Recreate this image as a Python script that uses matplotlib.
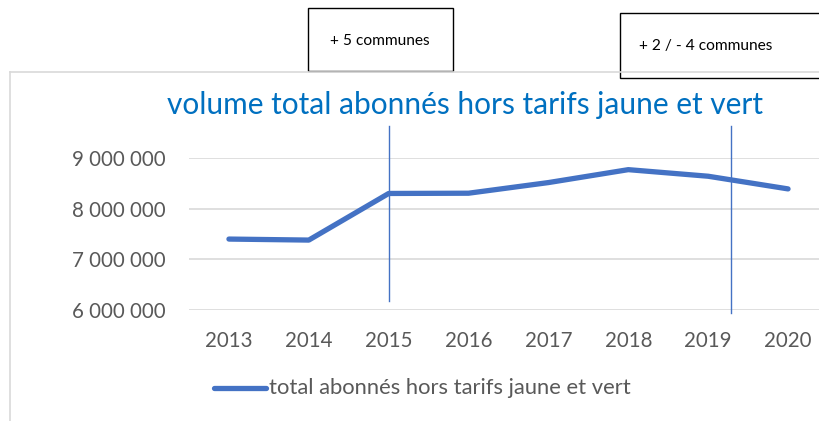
import matplotlib
matplotlib.use('Agg')
import matplotlib.pyplot as plt
from matplotlib.patches import Rectangle
from matplotlib.lines import Line2D

plt.rcParams['font.family'] = ['Lato', 'DejaVu Sans']

years = ['2013', '2014', '2015', '2016', '2017', '2018', '2019', '2020']
abonnes = [7400000, 7380000, 8300000, 8305000, 8515000, 8770000, 8640000, 8390000]
yticks = [6000000, 7000000, 8000000, 9000000]
ytick_labels = ['6 000 000', '7 000 000', '8 000 000', '9 000 000']

title = 'volume total abonnés hors tarifs jaune et vert'
legend_label = 'total abonnés hors tarifs jaune et vert'
note_1 = '+ 5 communes'
note_2 = '+ 2 / - 4 communes'

W, H = 820, 421
fig = plt.figure(figsize=(W / 100, H / 100), dpi=100)

def fx(px):
    return px / W

def fy(py):
    return 1 - py / H

# chart frame (only top and left edges visible)
fig.add_artist(Line2D([fx(10), fx(820)], [fy(72), fy(72)], color='#d9d9d9', lw=1.2))
fig.add_artist(Line2D([fx(10), fx(10)], [fy(72), fy(421)], color='#d9d9d9', lw=1.2))

ax = fig.add_axes([fx(189), fy(310), fx(820) - fx(189), fy(158) - fy(310)])
x = list(range(len(years)))
line, = ax.plot(x, abonnes, color='#4472c4', lw=3.8, solid_capstyle='round',
                solid_joinstyle='round', clip_on=False, zorder=3)
ax.set_xlim(-0.5, 7.4)
ax.set_ylim(6000000, 9000000)
ax.set_yticks(yticks)
ax.set_yticklabels(ytick_labels)
ax.set_xticks(x)
ax.set_xticklabels(years)
ax.tick_params(length=0, labelsize=14.8, colors='#595959')
ax.tick_params(axis='y', pad=16.5)
ax.tick_params(axis='x', pad=15)
ax.grid(axis='y', color='#d9d9d9', lw=1.2)
ax.set_axisbelow(True)
for s in ax.spines.values():
    s.set_visible(False)

# vertical markers
ax.axvline(2.0, ymin=0.06, ymax=1.21, color='#4472c4', lw=1.0, clip_on=False)
ax.axvline(6.29, ymin=-0.02, ymax=1.21, color='#4472c4', lw=1.0, clip_on=False)

fig.text(fx(465), fy(105), title, color='#0070c0', fontsize=21.5,
         ha='center', va='center')

# legend
fig.add_artist(Line2D([fx(214), fx(266)], [fy(388), fy(388)], color='#4472c4',
                      lw=3.8, solid_capstyle='round'))
fig.text(fx(269), fy(388), legend_label, color='#595959', fontsize=15.8,
         ha='left', va='center')

# annotation boxes
fig.add_artist(Rectangle((fx(308), fy(71)), fx(453) - fx(308), fy(8) - fy(71),
                         fill=True, facecolor='white', edgecolor='black', lw=1))
fig.text(fx(380), fy(41), note_1, fontsize=11.2, ha='center', va='center')
fig.add_artist(Rectangle((fx(620), fy(78)), fx(830) - fx(620), fy(13) - fy(78),
                         fill=True, facecolor='white', edgecolor='black', lw=1))
fig.text(fx(639), fy(46), note_2, fontsize=11.2, ha='left', va='center')

fig.savefig('out.png', dpi=100)
